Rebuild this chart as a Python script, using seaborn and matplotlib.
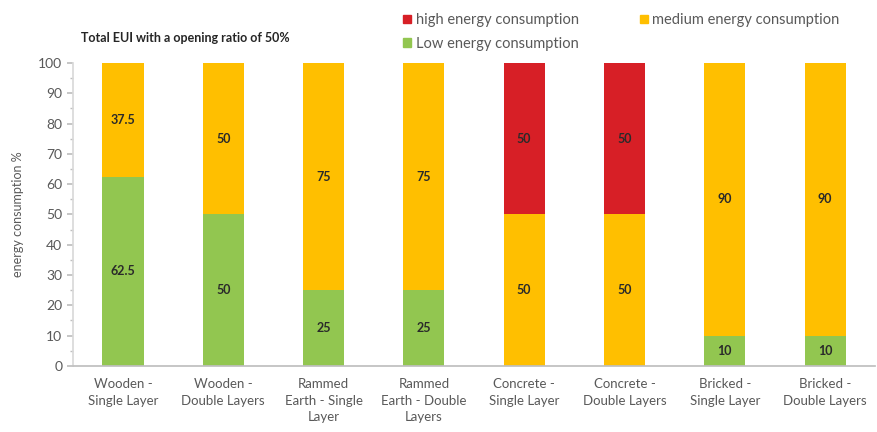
import matplotlib
matplotlib.use("Agg")
import matplotlib.pyplot as plt
import seaborn as sns
import pandas as pd
import numpy as np
from matplotlib.patches import Patch
from matplotlib.ticker import MultipleLocator

categories = ["Wooden -\nSingle Layer", "Wooden -\nDouble Layers", "Rammed\nEarth - Single\nLayer",
              "Rammed\nEarth - Double\nLayers", "Concrete -\nSingle Layer", "Concrete -\nDouble Layers",
              "Bricked -\nSingle Layer", "Bricked -\nDouble Layers"]
low = [62.5, 50, 25, 25, 0, 0, 10, 10]
medium = [37.5, 50, 75, 75, 50, 50, 90, 90]
high = [0, 0, 0, 0, 50, 50, 0, 0]

c_low = "#92C650"
c_med = "#FFBF00"
c_high = "#D71F26"

sns.set_theme(style="white")
plt.rcParams['font.family'] = ['Lato', 'DejaVu Sans']

df = pd.DataFrame({"cat": categories, "low": low, "medium": medium, "high": high})
df["b_med"] = df["low"]
df["b_high"] = df["low"] + df["medium"]

fig = plt.figure(figsize=(8.77, 4.32), dpi=100)
ax = fig.add_axes([0.083, 0.153, 0.915, 0.701])

w = 0.41
sns.barplot(data=df, x="cat", y="low", color=c_low, width=w, ax=ax, saturation=1, linewidth=0)
sns.barplot(data=df, x="cat", y="medium", bottom=df["b_med"], color=c_med, width=w, ax=ax, saturation=1, linewidth=0)
sns.barplot(data=df, x="cat", y="high", bottom=df["b_high"], color=c_high, width=w, ax=ax, saturation=1, linewidth=0)

for i in range(len(categories)):
    for val, base in ((low[i], 0), (medium[i], low[i]), (high[i], low[i] + medium[i])):
        if val > 0:
            txt = f"{val:g}"
            ax.text(i, base + val / 2, txt, ha="center", va="center", fontsize=9,
                    fontweight="bold", color="#2a2a2a")

ax.set_xlim(-0.5, 7.5)
ax.set_ylim(0, 100)
ax.yaxis.set_major_locator(MultipleLocator(10))
ax.yaxis.set_minor_locator(MultipleLocator(5))
ax.set_xlabel("")
ax.set_ylabel("energy consumption %", fontsize=9, color="#595959", labelpad=10)
ax.tick_params(axis="y", which="major", left=True, length=4, color="#BFBFBF", labelsize=10, labelcolor="#595959")
ax.tick_params(axis="y", which="minor", left=True, length=2, color="#BFBFBF")
ax.tick_params(axis="x", length=0, labelsize=9.5, labelcolor="#595959", pad=9)
for lbl in ax.get_xticklabels():
    lbl.set_linespacing(1.45)
for s in ("top", "right"):
    ax.spines[s].set_visible(False)
ax.spines["left"].set_color("#D9D9D9")
ax.spines["bottom"].set_color("#BFBFBF")

fig.text(0.092, 0.912, "Total EUI with a opening ratio of 50%", fontsize=9, fontweight="bold",
         color="#262626", va="center")

handles = [Patch(color=c_high), Patch(color=c_low), Patch(color=c_med)]
labels = ["high energy consumption", "Low energy consumption", "medium energy consumption"]
fig.legend(handles, labels, ncol=2, loc="upper left", bbox_to_anchor=(0.445, 1.0), frameon=False,
           fontsize=10.5, handlelength=0.55, handleheight=0.55, handletextpad=0.3, columnspacing=4.2,
           labelspacing=0.65, labelcolor="#595959")

fig.savefig("out.png", dpi=100)
